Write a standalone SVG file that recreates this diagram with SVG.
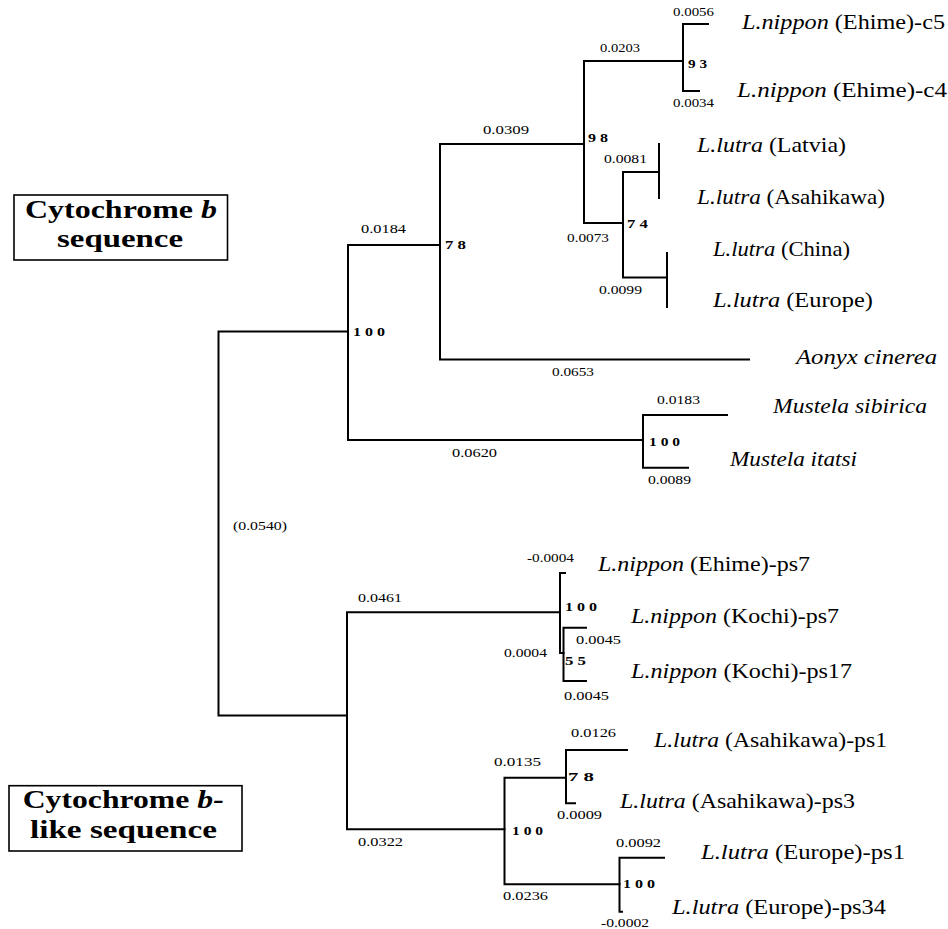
<svg xmlns="http://www.w3.org/2000/svg" width="948" height="929" viewBox="0 0 948 929">
<style>
.br{fill:none;stroke:#000;stroke-width:2;stroke-linecap:square}
.box{fill:#fff;stroke:#000;stroke-width:1.6}
.leaf{font-family:"Liberation Serif","Times New Roman",serif;font-size:21px;fill:#000}
.it{font-style:italic}
.bl{font-family:"Liberation Serif","Times New Roman",serif;font-size:11.5px;fill:#000}
.sup{font-family:"Liberation Serif","Times New Roman",serif;font-size:12.5px;font-weight:bold;fill:#000}
.ttl{font-family:"Liberation Serif","Times New Roman",serif;font-size:25px;font-weight:bold;fill:#000}
</style>
<rect width="948" height="929" fill="#fff"/>

<g id="connectors">
  <!-- root -->
  <path class="br" d="M348 331.5 H218.5 V715.5 H347"/>
  <!-- cyt b clade node (100) -->
  <path class="br" d="M440 245 H348 V440 H643"/>
  <!-- node 78 -->
  <path class="br" d="M584 144 H440 V359.5 H749"/>
  <!-- node 98 -->
  <path class="br" d="M683 61 H584 V223 H623"/>
  <!-- node 93 -->
  <path class="br" d="M708 24 H683 V91 H699"/>
  <!-- node 74 -->
  <path class="br" d="M659 172 H623 V277.5 H667"/>
  <path class="br" d="M659 144 V198"/>
  <path class="br" d="M667 253 V307"/>
  <!-- Mustela -->
  <path class="br" d="M727 415 H643 V467.7 H688"/>
  <!-- cyt b-like clade -->
  <path class="br" d="M560 612.3 H347 V829.3 H504.5"/>
  <path class="br" d="M565 573 H560 V653 H563.5"/>
  <path class="br" d="M586 627.7 H563.5 V681 H586"/>
  <path class="br" d="M566 777.7 H504.5 V884.3 H619.5"/>
  <path class="br" d="M627 750 H566 V803.3 H575"/>
  <path class="br" d="M664 857.7 H619.5 V911.7 H622"/>

  <!-- branch lengths -->
  <text class="bl" x="673" y="15.7" textLength="41" lengthAdjust="spacingAndGlyphs">0.0056</text>
  <text class="bl" x="600" y="51.7" textLength="40" lengthAdjust="spacingAndGlyphs">0.0203</text>
  <text class="bl" x="673" y="106.7" textLength="41" lengthAdjust="spacingAndGlyphs">0.0034</text>
  <text class="bl" x="483" y="134" textLength="46" lengthAdjust="spacingAndGlyphs">0.0309</text>
  <text class="bl" x="604" y="162.7" textLength="43" lengthAdjust="spacingAndGlyphs">0.0081</text>
  <text class="bl" x="361" y="233.3" textLength="45" lengthAdjust="spacingAndGlyphs">0.0184</text>
  <text class="bl" x="567" y="242" textLength="42" lengthAdjust="spacingAndGlyphs">0.0073</text>
  <text class="bl" x="599" y="294" textLength="43" lengthAdjust="spacingAndGlyphs">0.0099</text>
  <text class="bl" x="552" y="376" textLength="42" lengthAdjust="spacingAndGlyphs">0.0653</text>
  <text class="bl" x="657" y="404" textLength="43" lengthAdjust="spacingAndGlyphs">0.0183</text>
  <text class="bl" x="452" y="457" textLength="45" lengthAdjust="spacingAndGlyphs">0.0620</text>
  <text class="bl" x="648" y="484" textLength="43" lengthAdjust="spacingAndGlyphs">0.0089</text>
  <text class="bl" x="233" y="530" textLength="54" lengthAdjust="spacingAndGlyphs">(0.0540)</text>
  <text class="bl" x="527" y="561.7" textLength="47" lengthAdjust="spacingAndGlyphs">-0.0004</text>
  <text class="bl" x="358" y="602.3" textLength="44" lengthAdjust="spacingAndGlyphs">0.0461</text>
  <text class="bl" x="576" y="644.3" textLength="45" lengthAdjust="spacingAndGlyphs">0.0045</text>
  <text class="bl" x="504" y="656.7" textLength="43" lengthAdjust="spacingAndGlyphs">0.0004</text>
  <text class="bl" x="564" y="700" textLength="45" lengthAdjust="spacingAndGlyphs">0.0045</text>
  <text class="bl" x="571" y="736.7" textLength="45" lengthAdjust="spacingAndGlyphs">0.0126</text>
  <text class="bl" x="494" y="766" textLength="47" lengthAdjust="spacingAndGlyphs">0.0135</text>
  <text class="bl" x="557" y="819.3" textLength="45" lengthAdjust="spacingAndGlyphs">0.0009</text>
  <text class="bl" x="358" y="846" textLength="45" lengthAdjust="spacingAndGlyphs">0.0322</text>
  <text class="bl" x="616" y="846.5" textLength="45" lengthAdjust="spacingAndGlyphs">0.0092</text>
  <text class="bl" x="503" y="900" textLength="45" lengthAdjust="spacingAndGlyphs">0.0236</text>
  <text class="bl" x="601" y="926.5" textLength="48" lengthAdjust="spacingAndGlyphs">-0.0002</text>
</g>

<!-- internal nodes (bootstrap values) -->
<g id="node-n93"><text class="sup" x="688" y="67.7" textLength="19" lengthAdjust="spacingAndGlyphs">9 3</text></g>
<g id="node-n98"><text class="sup" x="588" y="141.7" textLength="20" lengthAdjust="spacingAndGlyphs">9 8</text></g>
<g id="node-n74"><text class="sup" x="627" y="228" textLength="21" lengthAdjust="spacingAndGlyphs">7 4</text></g>
<g id="node-n78a"><text class="sup" x="445" y="249.3" textLength="21" lengthAdjust="spacingAndGlyphs">7 8</text></g>
<g id="node-n100a"><text class="sup" x="353" y="336" textLength="32" lengthAdjust="spacingAndGlyphs">1 0 0</text></g>
<g id="node-n100b"><text class="sup" x="649" y="446" textLength="31" lengthAdjust="spacingAndGlyphs">1 0 0</text></g>
<g id="node-n100c"><text class="sup" x="565" y="610.7" textLength="32" lengthAdjust="spacingAndGlyphs">1 0 0</text></g>
<g id="node-n55"><text class="sup" x="565" y="665" textLength="21" lengthAdjust="spacingAndGlyphs">5 5</text></g>
<g id="node-n78b"><text class="sup" x="568" y="781" textLength="26" lengthAdjust="spacingAndGlyphs">7 8</text></g>
<g id="node-n100d"><text class="sup" x="512" y="835" textLength="31" lengthAdjust="spacingAndGlyphs">1 0 0</text></g>
<g id="node-n100e"><text class="sup" x="623" y="887.7" textLength="32" lengthAdjust="spacingAndGlyphs">1 0 0</text></g>

<!-- leaves -->
<g id="leaf-nippon-ehime-c5"><text class="leaf" x="742" y="29.3" textLength="203" lengthAdjust="spacingAndGlyphs"><tspan class="it">L.nippon</tspan> (Ehime)-c5</text></g>
<g id="leaf-nippon-ehime-c4"><text class="leaf" x="737" y="97" textLength="210" lengthAdjust="spacingAndGlyphs"><tspan class="it">L.nippon</tspan> (Ehime)-c4</text></g>
<g id="leaf-lutra-latvia"><text class="leaf" x="697" y="151.7" textLength="149" lengthAdjust="spacingAndGlyphs"><tspan class="it">L.lutra</tspan> (Latvia)</text></g>
<g id="leaf-lutra-asahikawa"><text class="leaf" x="697" y="204" textLength="188" lengthAdjust="spacingAndGlyphs"><tspan class="it">L.lutra</tspan> (Asahikawa)</text></g>
<g id="leaf-lutra-china"><text class="leaf" x="713" y="255.7" textLength="137" lengthAdjust="spacingAndGlyphs"><tspan class="it">L.lutra</tspan> (China)</text></g>
<g id="leaf-lutra-europe"><text class="leaf" x="713" y="307" textLength="160" lengthAdjust="spacingAndGlyphs"><tspan class="it">L.lutra</tspan> (Europe)</text></g>
<g id="leaf-aonyx"><text class="leaf it" x="796" y="364.3" textLength="141" lengthAdjust="spacingAndGlyphs">Aonyx cinerea</text></g>
<g id="leaf-mustela-sibirica"><text class="leaf it" x="773" y="413.3" textLength="154" lengthAdjust="spacingAndGlyphs">Mustela sibirica</text></g>
<g id="leaf-mustela-itatsi"><text class="leaf it" x="730" y="465.7" textLength="127" lengthAdjust="spacingAndGlyphs">Mustela itatsi</text></g>
<g id="leaf-nippon-ehime-ps7"><text class="leaf" x="598" y="570.7" textLength="212" lengthAdjust="spacingAndGlyphs"><tspan class="it">L.nippon</tspan> (Ehime)-ps7</text></g>
<g id="leaf-nippon-kochi-ps7"><text class="leaf" x="631" y="623.3" textLength="208" lengthAdjust="spacingAndGlyphs"><tspan class="it">L.nippon</tspan> (Kochi)-ps7</text></g>
<g id="leaf-nippon-kochi-ps17"><text class="leaf" x="631" y="678.3" textLength="221" lengthAdjust="spacingAndGlyphs"><tspan class="it">L.nippon</tspan> (Kochi)-ps17</text></g>
<g id="leaf-lutra-asahikawa-ps1"><text class="leaf" x="654" y="746.5" textLength="233" lengthAdjust="spacingAndGlyphs"><tspan class="it">L.lutra</tspan> (Asahikawa)-ps1</text></g>
<g id="leaf-lutra-asahikawa-ps3"><text class="leaf" x="620" y="807.7" textLength="235" lengthAdjust="spacingAndGlyphs"><tspan class="it">L.lutra</tspan> (Asahikawa)-ps3</text></g>
<g id="leaf-lutra-europe-ps1"><text class="leaf" x="701" y="859" textLength="204" lengthAdjust="spacingAndGlyphs"><tspan class="it">L.lutra</tspan> (Europe)-ps1</text></g>
<g id="leaf-lutra-europe-ps34"><text class="leaf" x="672" y="914" textLength="214" lengthAdjust="spacingAndGlyphs"><tspan class="it">L.lutra</tspan> (Europe)-ps34</text></g>

<!-- title boxes -->
<g id="box-cytb">
  <rect class="box" x="14" y="195" width="213.5" height="65"/>
  <text class="ttl" x="25" y="218.3" textLength="192" lengthAdjust="spacingAndGlyphs">Cytochrome <tspan font-style="italic">b</tspan></text>
  <text class="ttl" x="57" y="246.7" textLength="126" lengthAdjust="spacingAndGlyphs">sequence</text>
</g>
<g id="box-cytb-like">
  <rect class="box" x="9" y="785.7" width="233" height="65.3"/>
  <text class="ttl" x="22.7" y="808.3" textLength="201" lengthAdjust="spacingAndGlyphs">Cytochrome <tspan font-style="italic">b-</tspan></text>
  <text class="ttl" x="30" y="837.7" textLength="187" lengthAdjust="spacingAndGlyphs">like  sequence</text>
</g>
</svg>
